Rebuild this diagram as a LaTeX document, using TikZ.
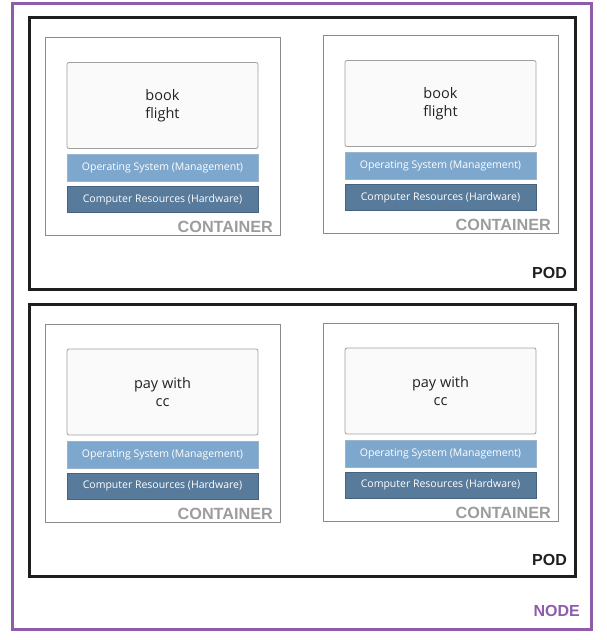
\documentclass[tikz,border=0pt]{standalone}
\usepackage{fontspec}
\setmainfont{Open Sans}
\newfontfamily\labelfont{Liberation Sans}
\usetikzlibrary{positioning}

\definecolor{nodepurple}{HTML}{8E5CA9}
\definecolor{podblack}{HTML}{1E1E1E}
\definecolor{ctrgray}{HTML}{8A8A8A}
\definecolor{ctrtext}{HTML}{9C9C9C}
\definecolor{appgray}{HTML}{A0A0A0}
\definecolor{appfill}{HTML}{FAFAFA}
\definecolor{apptext}{HTML}{222222}
\definecolor{osblue}{HTML}{7EA7CD}
\definecolor{osborder}{HTML}{9BB4CC}
\definecolor{hwblue}{HTML}{587A9B}
\definecolor{hwborder}{HTML}{46627E}

\begin{document}
\begin{tikzpicture}[x=1pt, y=-1pt,
    nodebox/.style={draw=nodepurple, line width=3pt, minimum width=579pt, minimum height=626pt, inner sep=0pt, outer sep=0pt},
    podbox/.style={draw=podblack, line width=3pt, minimum width=546pt, minimum height=272pt, inner sep=0pt, outer sep=0pt},
    ctrbox/.style={draw=ctrgray, line width=1pt, minimum width=235pt, minimum height=198pt, inner sep=0pt, outer sep=0pt},
    appbox/.style={draw=appgray, fill=appfill, rounded corners=2pt, line width=0.8pt, minimum width=191pt, minimum height=86pt, inner sep=0pt, outer sep=0pt, align=center, text=apptext, font=\fontsize{14.5}{18}\selectfont},
    osbar/.style={draw=osborder, fill=osblue, line width=0.6pt, minimum width=191pt, minimum height=27pt, inner sep=0pt, outer sep=0pt, text=white, font=\fontsize{10.5}{12}\selectfont},
    hwbar/.style={draw=hwborder, fill=hwblue, line width=0.6pt, minimum width=191pt, minimum height=26pt, inner sep=0pt, outer sep=0pt, text=white, font=\fontsize{10.5}{12}\selectfont},
    ctrlabel/.style={anchor=base east, inner sep=0pt, text=ctrtext, font=\labelfont\bfseries\fontsize{16.2}{18}\selectfont},
    podlabel/.style={anchor=base east, inner sep=0pt, text=podblack, font=\labelfont\bfseries\fontsize{16}{18}\selectfont},
    nodelabel/.style={anchor=base east, inner sep=0pt, text=nodepurple, font=\labelfont\bfseries\fontsize{16}{18}\selectfont}]
    \useasboundingbox (0,0) rectangle (607,640);

    % Node and its two pods
    \node[nodebox] (node) at (302,316.5) {};
    \node[podbox] (podA) at (302.5,153.5) {};
    \node[podbox] (podB) at (302.5,440.8) {};
    \node[nodelabel] (nodelab) at ([xshift=-11.5pt, yshift=13pt]node.south east) {NODE};
    \node[podlabel] (podlabA) at ([xshift=-8.5pt, yshift=11pt]podA.south east) {POD};
    \node[podlabel] (podlabB) at ([xshift=-8.5pt, yshift=11pt]podB.south east) {POD};

    % Containers
    \node[ctrbox] (ctrA) at (162.5,136.5) {};
    \node[ctrbox] (ctrB) at (440.5,134.5) {};
    \node[ctrbox] (ctrC) at (162.5,423) {};
    \node[ctrbox] (ctrD) at (440.5,422) {};

    % Container A
    \node[appbox, anchor=north] (appA) at ([yshift=-25pt]ctrA.north) {book\\flight};
    \node[osbar, below=6pt of appA] (osA) {Operating System (Management)};
    \node[hwbar, below=5pt of osA] (hwA) {Computer Resources (Hardware)};
    \node[ctrlabel] (ctrlabA) at ([xshift=-7pt, yshift=3pt]ctrA.south east) {CONTAINER};

    % Container B
    \node[appbox, anchor=north] (appB) at ([yshift=-25pt]ctrB.north) {book\\flight};
    \node[osbar, below=6pt of appB] (osB) {Operating System (Management)};
    \node[hwbar, below=5pt of osB] (hwB) {Computer Resources (Hardware)};
    \node[ctrlabel] (ctrlabB) at ([xshift=-7pt, yshift=3pt]ctrB.south east) {CONTAINER};

    % Container C
    \node[appbox, anchor=north] (appC) at ([yshift=-25pt]ctrC.north) {pay with\\cc};
    \node[osbar, below=6pt of appC] (osC) {Operating System (Management)};
    \node[hwbar, below=5pt of osC] (hwC) {Computer Resources (Hardware)};
    \node[ctrlabel] (ctrlabC) at ([xshift=-7pt, yshift=3pt]ctrC.south east) {CONTAINER};

    % Container D
    \node[appbox, anchor=north] (appD) at ([yshift=-25pt]ctrD.north) {pay with\\cc};
    \node[osbar, below=6pt of appD] (osD) {Operating System (Management)};
    \node[hwbar, below=5pt of osD] (hwD) {Computer Resources (Hardware)};
    \node[ctrlabel] (ctrlabD) at ([xshift=-7pt, yshift=3pt]ctrD.south east) {CONTAINER};
\end{tikzpicture}
\end{document}
